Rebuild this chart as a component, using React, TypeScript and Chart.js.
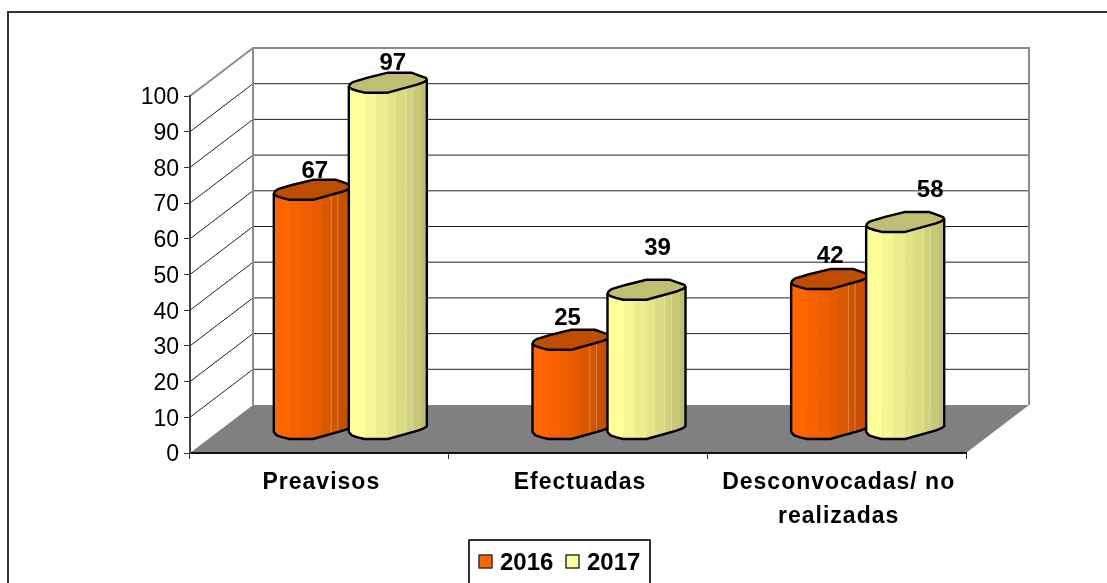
import React, { useEffect, useRef } from "react";
import { Chart, registerables } from "chart.js";

Chart.register(...registerables);

const categories: (string | string[])[] = ["Preavisos", "Efectuadas", ["Desconvocadas/ no", "realizadas"]];
const seriesNames = ["2016", "2017"];
const values2016 = [67, 25, 42];
const values2017 = [97, 39, 58];
const labelShift2016 = [[2, -18], [-4, -21], [0, -23]];
const labelShift2017 = [[5, -19], [11, -41], [25, -32]];

const FONT = '"Liberation Sans", Arial, sans-serif';
const FRONT = { left: 190, right: 966, top: 96, bottom: 453 };
const DEPTH = { x: 63, y: -48 };
const MID = { x: 31, y: -24 };

// Faceted cylinder rim, relative to the axis, for a half width of 39.
const RIM_TOP = [[-39, 4.3], [-38, 1.6], [-35, -0.6], [-21, -4.8], [0, -10], [23.5, -10], [30, -7.7], [38, -4.8], [39, -2.8]];
const RIM_BOTTOM = [[36, -0.6], [30, 1.7], [0, 10], [-23.3, 10], [-30, 8.3], [-36, 6.4]];
const BANDS = [0, 0.204, 0.345, 0.5, 0.607, 0.736, 0.82, 0.928, 1];
const SEAMS = [0.736, 0.82];

const shade = (rgb: number[], f: number) => `rgb(${rgb.map((c) => Math.round(c * f)).join(",")})`;

function trace(ctx: CanvasRenderingContext2D, pts: number[][], k: number, cx: number, cy: number, start: boolean) {
  pts.forEach(([dx, dy], i) => {
    const x = cx + dx * k;
    const y = cy + dy;
    if (start && i === 0) ctx.moveTo(x, y);
    else ctx.lineTo(x, y);
  });
}

function drawCylinder(ctx: CanvasRenderingContext2D, el: any, base: number, rgb: number[]) {
  const hw = el.width / 2;
  const k = hw / 39;
  const cx = el.x + MID.x;
  const top = el.y + MID.y;
  const bot = base + MID.y;
  const body = () => {
    ctx.beginPath();
    ctx.moveTo(cx - 39 * k, top + 4.3);
    ctx.lineTo(cx - 39 * k, bot + 3);
    trace(ctx, [...RIM_BOTTOM].reverse(), k, cx, bot, false);
    ctx.lineTo(cx + 39 * k, bot - 2.8);
    ctx.lineTo(cx + 39 * k, top - 2.8);
    ctx.closePath();
  };
  ctx.save();
  body();
  ctx.clip();
  const left = cx - hw;
  for (let i = 0; i < BANDS.length - 1; i++) {
    const f = 1 - (0.25 * i) / (BANDS.length - 2);
    ctx.fillStyle = shade(rgb, f);
    ctx.fillRect(left + BANDS[i] * el.width, top - 12, (BANDS[i + 1] - BANDS[i]) * el.width + 0.6, bot - top + 30);
  }
  ctx.strokeStyle = "rgba(255,255,255,0.28)";
  ctx.lineWidth = 1;
  SEAMS.forEach((s) => {
    ctx.beginPath();
    ctx.moveTo(left + s * el.width, top);
    ctx.lineTo(left + s * el.width, bot + 14);
    ctx.stroke();
  });
  ctx.restore();

  ctx.lineJoin = "round";
  ctx.strokeStyle = "#000";
  ctx.lineWidth = 2.4;
  body();
  ctx.stroke();

  ctx.beginPath();
  trace(ctx, RIM_TOP, k, cx, top, true);
  trace(ctx, RIM_BOTTOM, k, cx, top, false);
  ctx.closePath();
  ctx.fillStyle = shade(rgb, 0.75);
  ctx.fill();
  ctx.stroke();
}

const scene3d = {
  id: "scene3d",
  beforeDraw(chart: any) {
    const { ctx, scales } = chart;
    const x = scales.x;
    const y = scales.y;
    if (!x.__spaced) {
      x.__spaced = true;
      const orig = x.drawLabels;
      x.drawLabels = function (area: any) {
        ctx.save();
        ctx.letterSpacing = "1px";
        orig.call(this, area);
        ctx.restore();
      };
    }
    const L = x.left;
    const R = x.right;
    const B = y.bottom;
    const T = y.top;
    ctx.save();
    // frame of the chart object
    ctx.strokeStyle = "#333";
    ctx.lineWidth = 2;
    ctx.beginPath();
    ctx.moveTo(8, 584);
    ctx.lineTo(8, 12);
    ctx.lineTo(1108, 12);
    ctx.stroke();

    // floor
    ctx.fillStyle = "#808080";
    ctx.beginPath();
    ctx.moveTo(L, B);
    ctx.lineTo(L + DEPTH.x, B + DEPTH.y);
    ctx.lineTo(R + DEPTH.x, B + DEPTH.y);
    ctx.lineTo(R, B);
    ctx.closePath();
    ctx.fill();

    // gridlines on side and back walls
    ctx.strokeStyle = "#222";
    ctx.lineWidth = 1;
    y.ticks.forEach((t: any) => {
      if (t.value === 0 || t.value === 100) return;
      const py = y.getPixelForValue(t.value);
      ctx.beginPath();
      ctx.moveTo(L, py);
      ctx.lineTo(L + DEPTH.x, py + DEPTH.y);
      ctx.lineTo(R + DEPTH.x, py + DEPTH.y);
      ctx.stroke();
    });

    // wall outline
    ctx.strokeStyle = "#8c8c8c";
    ctx.lineWidth = 2;
    ctx.beginPath();
    ctx.moveTo(L + DEPTH.x, B + DEPTH.y);
    ctx.lineTo(L + DEPTH.x, T + DEPTH.y);
    ctx.lineTo(R + DEPTH.x, T + DEPTH.y);
    ctx.lineTo(R + DEPTH.x, B + DEPTH.y);
    ctx.moveTo(L, T);
    ctx.lineTo(L + DEPTH.x, T + DEPTH.y);
    ctx.stroke();
    ctx.restore();
  },
  beforeDatasetDraw() {
    return false;
  },
  afterDatasetsDraw(chart: any) {
    const { ctx, scales } = chart;
    const base = scales.y.getPixelForValue(0);
    const palette = [[255, 102, 0], [255, 255, 153]];
    const shifts = [labelShift2016, labelShift2017];
    ctx.save();
    chart.data.labels.forEach((_: any, j: number) => {
      chart.data.datasets.forEach((_d: any, i: number) => {
        drawCylinder(ctx, chart.getDatasetMeta(i).data[j], base, palette[i]);
      });
    });
    ctx.font = `bold 24px ${FONT}`;
    ctx.fillStyle = "#000";
    ctx.textAlign = "center";
    ctx.textBaseline = "middle";
    chart.data.datasets.forEach((d: any, i: number) => {
      chart.getDatasetMeta(i).data.forEach((el: any, j: number) => {
        const [sx, sy] = shifts[i][j];
        ctx.fillText(String(d.data[j]), el.x + MID.x + sx, el.y + MID.y + sy);
      });
    });

    // legend
    ctx.strokeStyle = "#333";
    ctx.lineWidth = 2;
    ctx.beginPath();
    ctx.moveTo(469, 584);
    ctx.lineTo(469, 540);
    ctx.lineTo(650, 540);
    ctx.lineTo(650, 584);
    ctx.stroke();
    const swatchX = [479, 566];
    ctx.textAlign = "left";
    chart.data.datasets.forEach((d: any, i: number) => {
      ctx.fillStyle = d.backgroundColor;
      ctx.fillRect(swatchX[i], 555, 13, 13);
      ctx.strokeStyle = "#333";
      ctx.lineWidth = 1.5;
      ctx.strokeRect(swatchX[i], 555, 13, 13);
      ctx.fillStyle = "#000";
      ctx.fillText(d.label, swatchX[i] + 21, 563);
    });
    ctx.restore();
  },
};

export default function App() {
  const ref = useRef<HTMLCanvasElement>(null);
  useEffect(() => {
    document.body.style.margin = "0";
    const chart = new Chart(ref.current!, {
      type: "bar",
      data: {
        labels: categories as any,
        datasets: [
          { label: seriesNames[0], data: values2016, backgroundColor: "#FF6600", borderColor: "#000" },
          { label: seriesNames[1], data: values2017, backgroundColor: "#FFFF99", borderColor: "#000" },
        ],
      },
      options: {
        animation: false,
        responsive: false,
        events: [],
        layout: { padding: { left: 0, top: FRONT.top, right: 1107 - FRONT.right, bottom: 0 } },
        plugins: { legend: { display: false }, title: { display: false }, tooltip: { enabled: false } },
        datasets: { bar: { categoryPercentage: 0.58, barPercentage: 1.04 } },
        scales: {
          x: {
            type: "category",
            afterFit: (s: any) => { s.height = 583 - FRONT.bottom; },
            border: { display: true, color: "#111", width: 2 },
            grid: { display: true, drawOnChartArea: false, drawTicks: true, tickLength: 6, color: "#333", offset: true },
            ticks: {
              color: "#000",
              padding: 7,
              labelOffset: 2,
              maxRotation: 0,
              autoSkip: false,
              font: { family: FONT, size: 23, weight: "bold", lineHeight: 34 / 23 },
            },
          },
          y: {
            min: 0,
            max: 100,
            afterFit: (s: any) => { s.width = FRONT.left; },
            border: { display: true, color: "#444", width: 2 },
            grid: { display: true, drawOnChartArea: false, drawTicks: true, tickLength: 6, color: "#333" },
            ticks: { stepSize: 10, color: "#000", padding: 5, labelOffset: 2, font: { family: FONT, size: 23 } },
          },
        },
      } as any,
      plugins: [scene3d as any],
    });
    return () => chart.destroy();
  }, []);
  return <canvas ref={ref} width={1107} height={583} style={{ display: "block" }} />;
}
